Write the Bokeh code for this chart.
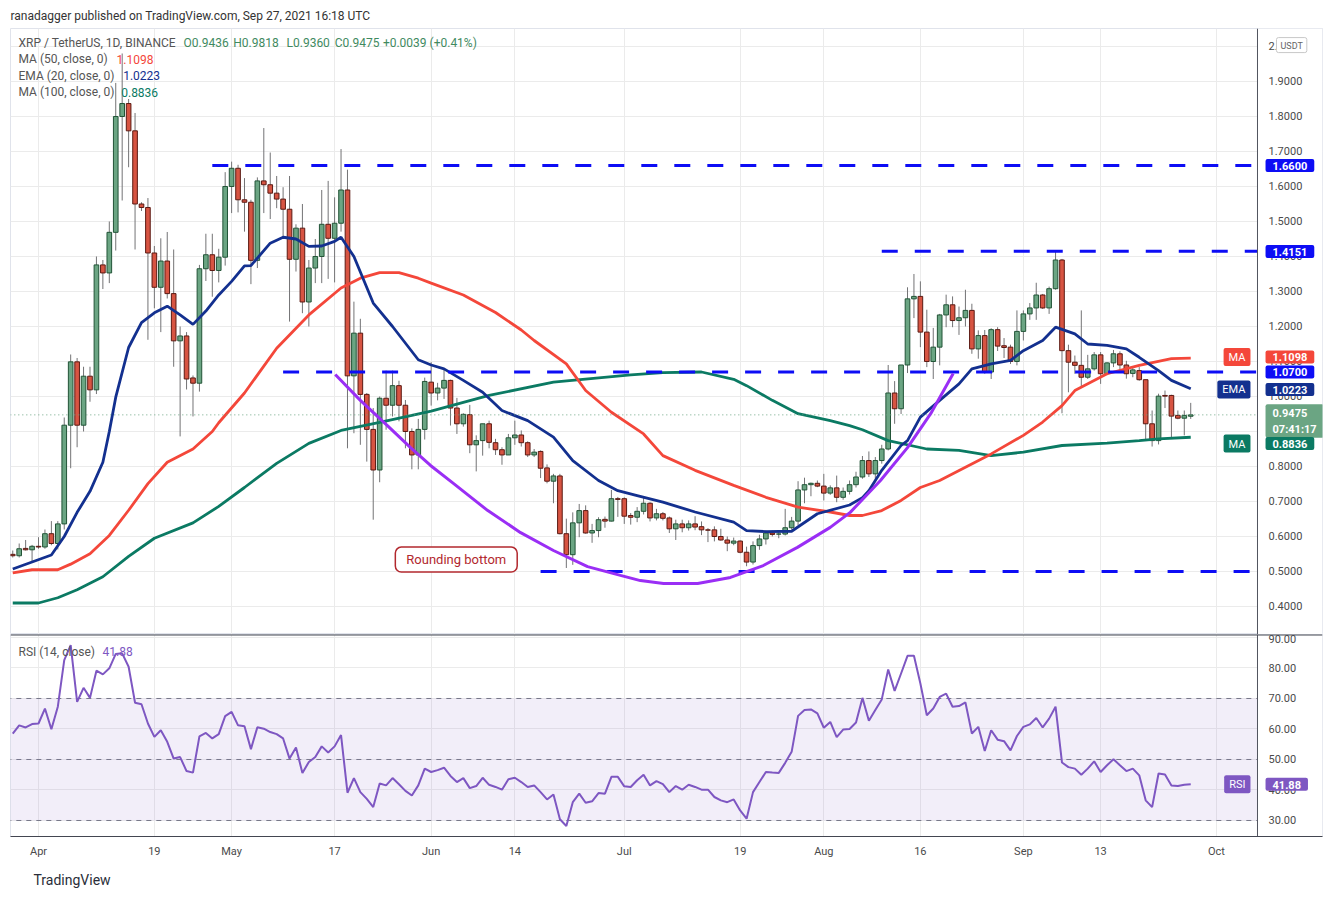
import numpy as np
import pandas as pd
from bokeh.plotting import figure
from bokeh.models import (Range1d, FixedTicker, Grid, Label, Title, Span,
                          ColumnDataSource, BoxAnnotation, NumeralTickFormatter)
from bokeh.layouts import column
from bokeh.embed import file_html
from bokeh.resources import INLINE

# ---------------- data ----------------
dates = pd.date_range("2021-03-28", "2021-09-27", freq="D")

opens = [.549, .545, .566, .562, .572, .570, .608, .580, .636, .918,
         1.099, .918, 1.058, 1.019, 1.376, 1.353, 1.469, 1.800, 1.837, 1.759,
         1.550, 1.540, 1.410, 1.312, 1.387, 1.294, 1.159, 1.173, 1.053, 1.038,
         1.365, 1.405, 1.360, 1.398, 1.600, 1.652, 1.562, 1.555, 1.389, 1.616,
         1.605, 1.581, 1.564, 1.535, 1.392, 1.481, 1.270, 1.367, 1.400, 1.492,
         1.452, 1.495, 1.590, 1.059, 1.181, 1.006, .906, .790, .995, .975,
         1.031, .975, .900, .833, .906, 1.041, 1.010, 1.024, 1.046, .967,
         .922, .948, .862, .874, .922, .868, .848, .833, .882, .890,
         .868, .833, .843, .796, .758, .773, .608, .548, .639, .674,
         .610, .617, .649, .644, .708, .708, .660, .655, .672, .695,
         .653, .665, .653, .622, .636, .625, .636, .628, .619, .619,
         .600, .590, .581, .587, .555, .527, .574, .593, .610, .607,
         .607, .625, .644, .733, .748, .752, .744, .724, .739, .712,
         .729, .748, .770, .817, .779, .817, .850, 1.010, .965, 1.090,
         1.279, 1.286, 1.184, 1.100, 1.141, 1.233, 1.262, 1.217, 1.225, 1.246,
         1.136, 1.174, 1.070, 1.191, 1.145, 1.141, 1.100, 1.186, 1.236, 1.253,
         1.290, 1.253, 1.308, 1.390, 1.131, 1.098, 1.089, 1.055, 1.079, 1.119,
         1.065, 1.096, 1.122, 1.090, 1.066, 1.074, 1.048, .922, .874, 1.003,
         1.003, .946, .938, .9436]
highs = [.560, .580, .590, .576, .598, .620, .644, .644, .940, 1.120,
         1.110, 1.085, 1.085, 1.400, 1.390, 1.500, 1.896, 1.980, 1.850, 1.810,
         1.555, 1.567, 1.430, 1.452, 1.470, 1.420, 1.200, 1.184, 1.060, 1.376,
         1.465, 1.465, 1.422, 1.641, 1.671, 1.662, 1.624, 1.562, 1.626, 1.767,
         1.697, 1.630, 1.598, 1.630, 1.492, 1.550, 1.390, 1.450, 1.590, 1.616,
         1.569, 1.707, 1.648, 1.271, 1.222, 1.010, .967, 1.000, 1.074, 1.074,
         1.045, .990, .909, .936, 1.054, 1.098, 1.039, 1.079, 1.048, .996,
         .952, .976, .889, .922, .931, .879, .855, .893, .931, .903,
         .872, .850, .846, .806, .779, .779, .651, .669, .693, .689,
         .636, .655, .657, .733, .713, .712, .667, .684, .712, .698,
         .679, .670, .657, .648, .648, .646, .658, .643, .624, .629,
         .622, .600, .597, .589, .571, .586, .605, .617, .617, .612,
         .679, .656, .758, .768, .754, .760, .779, .746, .774, .740,
         .760, .785, .830, .843, .827, .862, 1.090, 1.044, 1.090, 1.312,
         1.350, 1.329, 1.248, 1.196, 1.236, 1.291, 1.286, 1.257, 1.305, 1.265,
         1.189, 1.190, 1.195, 1.198, 1.167, 1.148, 1.246, 1.246, 1.267, 1.325,
         1.293, 1.314, 1.417, 1.393, 1.148, 1.117, 1.246, 1.119, 1.127, 1.127,
         1.098, 1.133, 1.129, 1.102, 1.084, 1.084, 1.048, .960, 1.008, 1.017,
         1.005, .960, .960, .9818]
lows = [.540, .540, .560, .527, .565, .565, .575, .563, .620, .795,
        .855, .900, .985, 1.007, 1.307, 1.324, 1.417, 1.560, 1.655, 1.420,
        1.530, 1.162, 1.252, 1.184, 1.280, 1.085, .886, 1.020, .943, 1.014,
        1.330, 1.285, 1.326, 1.374, 1.524, 1.526, 1.471, 1.321, 1.367, 1.524,
        1.507, 1.538, 1.452, 1.214, 1.357, 1.238, 1.200, 1.324, 1.324, 1.336,
        1.326, 1.471, .852, .895, .862, .814, .648, .755, .905, .943,
        .929, .852, .792, .792, .877, .974, .989, .993, .917, .893,
        .914, .838, .786, .831, .852, .833, .805, .833, .862, .857,
        .827, .827, .767, .752, .695, .606, .510, .519, .598, .608,
        .582, .598, .625, .643, .656, .636, .634, .641, .663, .643,
        .646, .646, .610, .590, .612, .617, .618, .604, .584, .586,
        .588, .558, .575, .552, .515, .520, .562, .577, .600, .595,
        .603, .620, .632, .695, .715, .741, .703, .719, .698, .705,
        .720, .740, .765, .770, .765, .808, .846, .922, .950, 1.067,
        1.224, 1.141, 1.084, 1.050, 1.089, 1.198, 1.198, 1.176, 1.200, 1.122,
        1.108, 1.065, 1.050, 1.130, 1.110, 1.093, 1.089, 1.160, 1.219, 1.219,
        1.250, 1.236, 1.305, .952, 1.012, 1.065, 1.030, 1.050, 1.074, 1.036,
        1.061, 1.084, 1.075, 1.051, 1.055, 1.045, .874, .857, .863, .967,
        .884, .935, .889, .936]
closes = [.545, .565, .562, .572, .570, .608, .580, .636, .918, 1.099,
          .918, 1.058, 1.019, 1.376, 1.353, 1.469, 1.800, 1.837, 1.759, 1.550,
          1.540, 1.410, 1.312, 1.387, 1.294, 1.159, 1.173, 1.050, 1.038, 1.365,
          1.405, 1.360, 1.398, 1.600, 1.652, 1.562, 1.555, 1.389, 1.616, 1.605,
          1.581, 1.564, 1.535, 1.392, 1.481, 1.270, 1.367, 1.400, 1.492, 1.452,
          1.495, 1.590, 1.059, 1.181, 1.006, .906, .790, .995, .975, 1.031,
          .975, .900, .833, .906, 1.043, 1.010, 1.024, 1.046, .967, .922,
          .949, .862, .874, .922, .869, .848, .833, .882, .890, .868,
          .833, .841, .795, .758, .773, .608, .548, .639, .674, .610,
          .617, .648, .644, .708, .706, .658, .655, .672, .695, .653,
          .665, .652, .622, .636, .625, .636, .627, .619, .618, .600,
          .590, .581, .587, .555, .527, .574, .593, .610, .606, .607,
          .625, .644, .733, .748, .752, .744, .724, .739, .712, .729,
          .748, .770, .817, .779, .817, .850, 1.010, .965, 1.090, 1.279,
          1.286, 1.184, 1.100, 1.141, 1.233, 1.262, 1.217, 1.225, 1.246, 1.136,
          1.174, 1.070, 1.191, 1.144, 1.140, 1.100, 1.186, 1.236, 1.253, 1.290,
          1.253, 1.308, 1.390, 1.131, 1.098, 1.089, 1.055, 1.079, 1.119, 1.065,
          1.096, 1.122, 1.090, 1.065, 1.076, 1.048, .922, .874, 1.001, 1.001,
          .944, .938, .946, .9475]

rsi = [58.5, 61.2, 60.5, 61.6, 61.8, 66.7, 59.9, 67.3, 82.6, 87.5,
       68.9, 73.5, 70.2, 79.1, 77.9, 79.9, 84.6, 84.8, 80.4, 68.6,
       68.1, 61.8, 57.4, 59.6, 55.8, 50.3, 50.8, 46.2, 45.7, 57.6,
       58.7, 56.9, 58.3, 64.2, 65.6, 61.2, 60.9, 53.4, 60.6, 60.1,
       59.0, 58.3, 56.9, 50.3, 53.9, 45.6, 49.2, 50.8, 54.3, 52.3,
       54.3, 58.0, 39.1, 43.9, 39.3, 37.1, 34.4, 42.1, 41.5, 43.9,
       41.9, 39.7, 38.2, 41.5, 47.0, 45.9, 46.5, 47.3, 44.6, 42.6,
       43.9, 40.6, 41.3, 44.0, 41.7, 41.0, 40.1, 43.5, 44.0, 42.6,
       41.0, 41.5, 39.3, 36.9, 38.5, 30.4, 28.2, 36.0, 38.8, 35.8,
       36.3, 39.0, 38.8, 44.3, 44.3, 41.2, 41.0, 43.2, 45.0, 41.5,
       42.9, 41.9, 39.3, 41.3, 40.1, 41.7, 41.0, 40.1, 40.1, 37.7,
       36.6, 36.0, 36.9, 33.3, 30.6, 39.3, 42.6, 45.9, 45.7, 45.6,
       48.9, 52.5, 64.3, 66.2, 66.4, 65.1, 60.4, 62.3, 57.3, 59.8,
       60.0, 62.1, 70.2, 62.7, 66.2, 69.7, 79.5, 72.5, 78.2, 84.0,
       84.0, 74.9, 64.5, 66.7, 70.5, 71.6, 67.3, 67.5, 68.7, 58.5,
       60.7, 52.8, 59.6, 56.5, 56.0, 53.0, 57.7, 60.7, 61.5, 63.6,
       60.5, 63.4, 67.3, 49.0, 47.5, 47.0, 45.0, 47.0, 49.4, 45.9,
       48.1, 50.1, 48.1, 46.2, 47.0, 44.8, 36.6, 34.4, 45.4, 45.1,
       41.5, 41.3, 41.7, 41.88]

# moving-average lines (day offset from first date, value)
ma50_day = [0, 3, 7, 9, 12, 15, 18, 21, 24, 28, 31, 32, 36, 41, 46, 51, 54, 57, 60, 63,
            65, 70, 75, 79, 81, 86, 89, 93, 98, 101, 106, 112, 117, 122, 127, 130, 132, 135, 138, 141,
            144, 152, 157, 160, 163, 165, 170, 175, 180, 183]
ma50_val = [0.496, 0.505, 0.505, 0.521, 0.551, 0.603, 0.675, 0.751, 0.812, 0.85, 0.90, 0.925, 1.01, 1.138, 1.233, 1.31, 1.338, 1.354, 1.354, 1.338,
            1.324, 1.29, 1.24, 1.19, 1.16, 1.093, 1.017, 0.955, 0.893, 0.831, 0.789, 0.746, 0.712, 0.684, 0.67, 0.66, 0.66, 0.674, 0.703, 0.74,
            0.76, 0.836, 0.889, 0.927, 0.974, 1.017, 1.065, 1.089, 1.108, 1.1098]
ema20_day = [0, 3, 6, 8, 10, 12, 14, 15, 16, 18, 20, 22, 24, 26, 28, 30, 32, 34, 36, 37,
             40, 42, 44, 46, 48, 50, 51, 53, 56, 59, 63, 65, 67, 70, 73, 76, 80, 84, 87, 91,
             94, 97, 101, 106, 112, 114, 117, 121, 125, 130, 132, 133, 135, 138, 139, 141, 144, 147, 149, 152,
             155, 157, 160, 162, 165, 167, 170, 173, 175, 178, 180, 183]
ema20_val = [0.507, 0.527, 0.547, 0.6, 0.669, 0.729, 0.812, 0.9, 0.998, 1.14, 1.211, 1.239, 1.258, 1.233, 1.206, 1.244, 1.29, 1.329, 1.373, 1.374,
             1.438, 1.455, 1.45, 1.429, 1.43, 1.443, 1.455, 1.40, 1.267, 1.2, 1.105, 1.09, 1.079, 1.046, 1.012, 0.96, 0.931, 0.884, 0.817, 0.76,
             0.731, 0.717, 0.698, 0.67, 0.641, 0.617, 0.614, 0.615, 0.665, 0.69, 0.711, 0.731, 0.789, 0.86, 0.874, 0.941, 0.989, 1.036, 1.079, 1.093,
             1.103, 1.131, 1.16, 1.198, 1.179, 1.15, 1.146, 1.136, 1.112, 1.074, 1.046, 1.0223]
ma100_day = [0, 4, 7, 10, 14, 18, 22, 28, 32, 36, 41, 46, 51, 57, 62, 65, 74, 84, 96, 101,
             107, 112, 114, 118, 122, 127, 130, 132, 136, 142, 147, 152, 157, 163, 170, 175, 178, 183]
ma100_val = [0.41, 0.41, 0.425, 0.448, 0.485, 0.543, 0.595, 0.639, 0.686, 0.74, 0.809, 0.866, 0.903, 0.926, 0.946, 0.958, 1.003, 1.041, 1.062, 1.068,
             1.07, 1.049, 1.031, 0.989, 0.951, 0.931, 0.917, 0.905, 0.874, 0.85, 0.846, 0.831, 0.841, 0.86, 0.867, 0.874, 0.879, 0.8836]

# drawings
level_prices = [1.66, 1.4151, 1.07, 0.50]
level_from = ["2021-04-28", "2021-08-10", "2021-05-09", "2021-06-18"]
curve_day = [50.1, 54, 58.2, 61.8, 64.9, 68.5, 73.8, 78.9, 84, 89.3, 94.4, 97.5,
             101.1, 106.4, 111.5, 116.6, 121.9, 127, 130.1, 134.8, 139, 142.6, 146.1]
curve_price = [1.063, 0.989, 0.917, 0.854, 0.803, 0.751, 0.674, 0.611, 0.56, 0.514, 0.489, 0.474,
               0.466, 0.466, 0.483, 0.517, 0.569, 0.626, 0.669, 0.76, 0.854, 0.951, 1.066]

tick_dates = ["2021-04-01", "2021-04-19", "2021-05-01", "2021-05-17", "2021-06-01", "2021-06-14",
              "2021-07-01", "2021-07-19", "2021-08-01", "2021-08-16", "2021-09-01", "2021-09-13", "2021-10-01"]
tick_labels = ["Apr", "19", "May", "17", "Jun", "14", "Jul", "19", "Aug", "16", "Sep", "13", "Oct"]
price_ticks = [0.4, 0.5, 0.6, 0.7, 0.8, 0.9, 1.0, 1.1, 1.2, 1.3, 1.4, 1.5, 1.6, 1.7, 1.8, 1.9, 2.0]
rsi_ticks = [30, 40, 50, 60, 70, 80, 90]

# ---------------- styling ----------------
FONT = "Roboto"
UP, DOWN, UPB, DOWNB, WICK = "#6ba583", "#d75442", "#225437", "#5b1a13", "#737375"
C_MA50, C_EMA, C_MA100 = "#f4473a", "#13308f", "#0b7a63"
C_LEVEL, C_CURVE, C_RSI = "#0d0df5", "#9a2ef5", "#7e57c2"
GRID = "#ebebeb"
AXTXT = "#4a4a4a"
AXLINE = "#50535e"

start = dates[0]
day = np.array([(d - start).days for d in dates], dtype=float)
o, h, l, c = map(np.array, (opens, highs, lows, closes))
up = c >= o
xticks = [(pd.Timestamp(d) - start).days for d in tick_dates]

X_END = 193.37      # right edge of the price area (price scale starts here)
XR = Range1d(-0.35, 203.47)

def style_price_axis(ax):
    ax.major_tick_in = 0
    ax.major_tick_out = 0
    ax.minor_tick_line_color = None
    ax.axis_line_color = None
    ax.major_label_text_font = FONT
    ax.major_label_text_font_size = "11px"
    ax.major_label_text_color = AXTXT
    ax.major_label_standoff = -54

p1 = figure(width=1330, height=634, x_range=XR, y_range=Range1d(0.32, 2.0514),
            x_axis_location=None, y_axis_location="right",
            output_backend="svg", toolbar_location=None,
            min_border_left=10, min_border_right=8, min_border_top=28, min_border_bottom=0,
            background_fill_color="white", border_fill_color="white",
            outline_line_color="#e0e3eb",
            title="ranadagger published on TradingView.com, Sep 27, 2021 16:18 UTC")
p1.title.align = "left"
p1.title.offset = 0
p1.title.text_font = FONT
p1.title.text_font_size = "12px"
p1.title.text_font_style = "normal"
p1.title.text_color = "#333333"
p1.title.standoff = 7
p1.title.vertical_align = "top"

p1.yaxis.ticker = FixedTicker(ticks=price_ticks)
p1.yaxis.formatter = NumeralTickFormatter(format="0.0000")
style_price_axis(p1.yaxis)
p1.ygrid.grid_line_color = GRID
p1.xgrid.visible = False
p1.add_layout(Grid(dimension=0, ticker=FixedTicker(ticks=xticks), grid_line_color=GRID))
# blank price-scale area (hides grid there), then its separator line
p1.add_layout(BoxAnnotation(left=X_END, fill_color="white", fill_alpha=1.0,
                            line_alpha=0, level="underlay"))
p1.add_layout(Span(location=X_END, dimension="height", line_color=AXLINE, line_width=1))

# candles
src_up = ColumnDataSource(dict(x=day[up], o=o[up], h=h[up], l=l[up], c=c[up]))
src_dn = ColumnDataSource(dict(x=day[~up], o=o[~up], h=h[~up], l=l[~up], c=c[~up]))
p1.segment(x0="x", y0="h", x1="x", y1="l", source=src_up, line_color=WICK, line_width=1)
p1.segment(x0="x", y0="h", x1="x", y1="l", source=src_dn, line_color=WICK, line_width=1)
p1.vbar(x="x", width=0.72, top="c", bottom="o", source=src_up,
        fill_color=UP, line_color=UPB, line_width=1)
p1.vbar(x="x", width=0.72, top="o", bottom="c", source=src_dn,
        fill_color=DOWN, line_color=DOWNB, line_width=1)

# moving averages
p1.line(ma100_day, ma100_val, line_color=C_MA100, line_width=2.8)
p1.line(ma50_day, ma50_val, line_color=C_MA50, line_width=2.8)
p1.line(ema20_day, ema20_val, line_color=C_EMA, line_width=2.8)

# last price dotted line
p1.segment(x0=[-1], y0=[closes[-1]], x1=[X_END], y1=[closes[-1]], line_color=UP,
           line_dash="1 3", line_width=1)

# horizontal levels
lv_x0 = [(pd.Timestamp(d) - start).days for d in level_from]
p1.segment(x0=lv_x0, y0=level_prices, x1=[X_END] * len(level_prices), y1=level_prices,
           line_color=C_LEVEL, line_width=3, line_dash="16 17")

# rounding bottom curve
p1.line(curve_day, curve_price, line_color=C_CURVE, line_width=3)

p1.add_layout(Label(x=68.9, y=0.534, text="Rounding bottom", text_align="center",
                    text_baseline="middle", text_color="#b2282e", text_font=FONT,
                    text_font_size="13px", background_fill_color="white",
                    border_line_color="#b2282e", border_line_width=1.5, border_radius=6,
                    padding=dict(left=11, right=11, top=5, bottom=5)))

# legend texts (top-left)
def txt(p, x, y, t, color, size="12px"):
    p.add_layout(Label(x=x, y=y, text=t, text_color=color, text_font=FONT,
                       text_font_size=size, text_baseline="middle", text_align="left"))

GRAYT = "#555555"
GREENT = "#3f8a5f"
txt(p1, 0.893, 2.0114, "XRP / TetherUS, 1D, BINANCE", GRAYT)
txt(p1, 26.53, 2.0114, "O0.9436", GREENT)
txt(p1, 34.25, 2.0114, "H0.9818", GREENT)
txt(p1, 42.53, 2.0114, "L0.9360", GREENT)
txt(p1, 50.03, 2.0114, "C0.9475", GREENT)
txt(p1, 57.50, 2.0114, "+0.0039 (+0.41%)", GREENT)
txt(p1, 0.893, 1.9629, "MA (50, close, 0)", GRAYT)
txt(p1, 16.12, 1.9629, "1.1098", C_MA50)
txt(p1, 0.893, 1.9171, "EMA (20, close, 0)", GRAYT)
txt(p1, 17.16, 1.9171, "1.0223", C_EMA)
txt(p1, 0.893, 1.8686, "MA (100, close, 0)", GRAYT)
txt(p1, 16.85, 1.8686, "0.8836", C_MA100)

# price-scale badges
X_VAL = 194.62   # left text anchor of value boxes
X_TAG = 192.28   # right text anchor of name tags
TAGPAD = dict(left=5, right=5, top=3, bottom=2)

def badge(p, x, y, t, bg, align="left", color="white", size="11px", bold=True, pad=None,
          border=None):
    p.add_layout(Label(x=x, y=y, text=t, text_align=align, text_baseline="middle",
                       text_color=color, text_font=FONT, text_font_size=size,
                       text_font_style="bold" if bold else "normal",
                       background_fill_color=bg, border_line_color=border,
                       padding=pad or dict(left=7, right=7, top=3, bottom=2),
                       border_radius=2))

badge(p1, 196.32, 2.004, "USDT", "white", color="#666666", size="9px", bold=False,
      border="#c8c8c8", pad=dict(left=4, right=4, top=3, bottom=2))
badge(p1, X_VAL, 1.66, "1.6600", C_LEVEL)
badge(p1, X_VAL, 1.4143, "1.4151", C_LEVEL)
badge(p1, X_TAG, 1.1129, "MA", C_MA50, align="right", bold=False, pad=TAGPAD)
badge(p1, X_VAL, 1.1129, "1.1098", C_MA50)
badge(p1, X_VAL, 1.07, "1.0700", C_LEVEL)
badge(p1, X_TAG, 1.02, "EMA", C_EMA, align="right", bold=False, pad=TAGPAD)
badge(p1, X_VAL, 1.02, "1.0223", C_EMA)
badge(p1, X_VAL, 0.930, "0.9475\n07:41:17", UP)
badge(p1, X_TAG, 0.8657, "MA", C_MA100, align="right", bold=False, pad=TAGPAD)
badge(p1, X_VAL, 0.8657, "0.8836", C_MA100)

# ---------------- RSI panel ----------------
p2 = figure(width=1330, height=266, x_range=XR, y_range=Range1d(24.75, 90.98),
            y_axis_location="right", output_backend="svg", toolbar_location=None,
            min_border_left=10, min_border_right=8, min_border_top=0, min_border_bottom=64,
            background_fill_color="white", border_fill_color="white",
            outline_line_color="#e0e3eb")
p2.ygrid.grid_line_color = GRID
p2.xgrid.grid_line_color = GRID
p2.add_layout(BoxAnnotation(left=X_END, fill_color="white", fill_alpha=1.0,
                            line_alpha=0, level="underlay"))
p2.add_layout(BoxAnnotation(bottom=30, top=70, right=X_END, fill_color=C_RSI, fill_alpha=0.1,
                            line_alpha=0))
p2.segment(x0=[-1, -1, -1], y0=[70, 50, 30], x1=[X_END] * 3, y1=[70, 50, 30],
           line_color="#787b86", line_dash="5 5", line_width=1)
p2.add_layout(Span(location=X_END, dimension="height", line_color=AXLINE, line_width=1))
p2.add_layout(Span(location=90.98, dimension="width", line_color="#434651", line_width=2))
p2.line(day, rsi, line_color=C_RSI, line_width=2)

p2.yaxis.ticker = FixedTicker(ticks=rsi_ticks)
p2.yaxis.formatter = NumeralTickFormatter(format="0.00")
style_price_axis(p2.yaxis)
p2.xaxis.ticker = FixedTicker(ticks=xticks)
p2.xaxis.major_label_overrides = {t: s for t, s in zip(xticks, tick_labels)}
p2.xaxis.major_tick_in = 0
p2.xaxis.major_tick_out = 0
p2.xaxis.minor_tick_line_color = None
p2.xaxis.axis_line_color = "#434651"
p2.xaxis.major_label_text_font = FONT
p2.xaxis.major_label_text_font_size = "11px"
p2.xaxis.major_label_text_color = AXTXT
p2.xaxis.major_label_standoff = 8

txt(p2, 0.893, 85.4, "RSI (14, close)", GRAYT)
txt(p2, 13.94, 85.4, "41.88", C_RSI)
badge(p2, X_TAG, 41.88, "RSI", C_RSI, align="right", bold=False, pad=TAGPAD)
badge(p2, X_VAL, 41.88, "41.88", C_RSI)

p2.add_layout(Title(text="TradingView", align="left", offset=23, text_font=FONT,
                    text_font_size="14px", text_font_style="normal", text_color="#2a2e39",
                    standoff=18), "below")

layout = column(p1, p2, spacing=0)
open("out.html", "w").write(file_html(layout, INLINE))
